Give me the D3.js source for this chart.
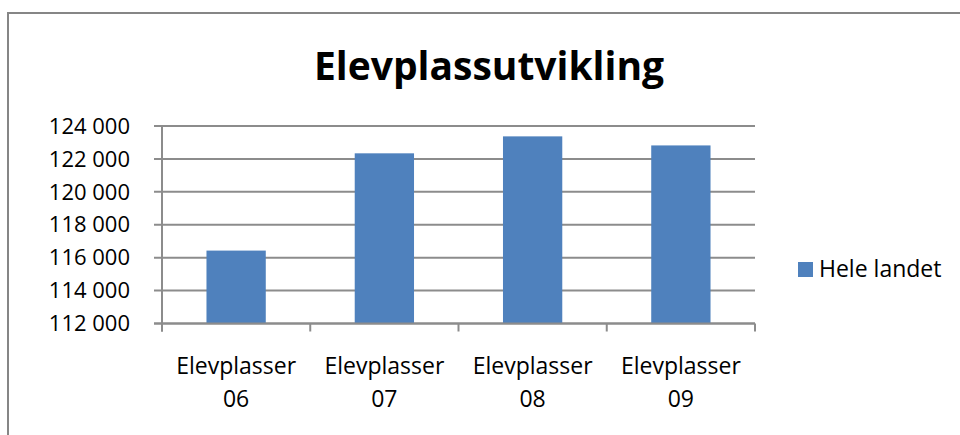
<!DOCTYPE html>
<html>
<head>
<meta charset="utf-8">
<script src="https://cdn.jsdelivr.net/npm/d3@7"></script>
<style>
  body { margin: 0; background: #fff; }
  svg { display: block; font-family: "Open Sans", sans-serif; }
</style>
</head>
<body>
<svg width="960" height="435"></svg>
<script>
var categories = ['Elevplasser 06', 'Elevplasser 07', 'Elevplasser 08', 'Elevplasser 09'];
var values = [116430, 122340, 123370, 122820];
var yTicks = [112000, 114000, 116000, 118000, 120000, 122000, 124000];
var seriesName = 'Hele landet';
var title = 'Elevplassutvikling';

var svg = d3.select('svg');
var gridColor = '#8c8c8c';
var barColor = '#4f81bd';

// outer frame (runs off the right and bottom edges)
svg.append('rect')
  .attr('x', 8).attr('y', 13)
  .attr('width', 1000).attr('height', 500)
  .attr('fill', 'none')
  .attr('stroke', '#868686').attr('stroke-width', 2);

var plotLeft = 162, plotRight = 755, plotTop = 126, plotBottom = 323.5;

var x = d3.scaleBand()
  .domain(categories)
  .range([plotLeft, plotRight])
  .paddingInner(0.6)
  .paddingOuter(0.3);

var y = d3.scaleLinear()
  .domain([112000, 124000])
  .range([plotBottom, plotTop]);

// horizontal gridlines
svg.append('g')
  .selectAll('line')
  .data(yTicks)
  .enter().append('line')
  .attr('x1', plotLeft - 8).attr('x2', plotRight)
  .attr('y1', function (d) { return y(d); })
  .attr('y2', function (d) { return y(d); })
  .attr('stroke', gridColor).attr('stroke-width', 2);

// y labels
var fmt = function (d) { return d3.format(',')(d).replace(/,/g, ' '); };
svg.append('g')
  .selectAll('text')
  .data(yTicks)
  .enter().append('text')
  .attr('x', 130)
  .attr('y', function (d) { return y(d); })
  .attr('dy', '0.35em')
  .attr('text-anchor', 'end')
  .attr('font-size', '22px')
  .attr('fill', '#000')
  .text(fmt);

// bars
svg.append('g')
  .selectAll('rect')
  .data(values)
  .enter().append('rect')
  .attr('x', function (d, i) { return x(categories[i]); })
  .attr('width', x.bandwidth())
  .attr('y', function (d) { return y(d); })
  .attr('height', function (d) { return plotBottom - y(d); })
  .attr('fill', barColor);

// y axis line
svg.append('line')
  .attr('x1', plotLeft).attr('x2', plotLeft)
  .attr('y1', plotTop).attr('y2', plotBottom + 8)
  .attr('stroke', gridColor).attr('stroke-width', 2);

// x axis line + category ticks
svg.append('line')
  .attr('x1', plotLeft - 8).attr('x2', plotRight)
  .attr('y1', plotBottom).attr('y2', plotBottom)
  .attr('stroke', gridColor).attr('stroke-width', 2);

var bounds = categories.map(function (c) { return x(c) - x.step() * x.paddingInner() / 2; });
bounds.push(plotRight);
svg.append('g')
  .selectAll('line')
  .data(bounds)
  .enter().append('line')
  .attr('x1', function (d) { return d; })
  .attr('x2', function (d) { return d; })
  .attr('y1', plotBottom).attr('y2', plotBottom + 8)
  .attr('stroke', gridColor).attr('stroke-width', 2);

// category labels, two lines
var labels = svg.append('g')
  .selectAll('text')
  .data(categories)
  .enter().append('text')
  .attr('text-anchor', 'middle')
  .attr('font-size', '23px')
  .attr('fill', '#000');
labels.each(function (d) {
  var parts = d.split(' ');
  var cx = x(d) + x.bandwidth() / 2;
  var t = d3.select(this);
  t.append('tspan').attr('x', cx).attr('y', 374).text(parts[0]);
  t.append('tspan').attr('x', cx).attr('y', 407).text(parts[1]);
});

// title
svg.append('text')
  .attr('x', 489).attr('y', 80)
  .attr('text-anchor', 'middle')
  .attr('font-size', '39px')
  .attr('font-weight', 'bold')
  .attr('fill', '#000')
  .text(title);

// legend
svg.append('rect')
  .attr('x', 798).attr('y', 262)
  .attr('width', 15).attr('height', 15)
  .attr('fill', barColor);
svg.append('text')
  .attr('x', 819).attr('y', 277)
  .attr('font-size', '23px')
  .attr('fill', '#000')
  .text(seriesName);
</script>
</body>
</html>
